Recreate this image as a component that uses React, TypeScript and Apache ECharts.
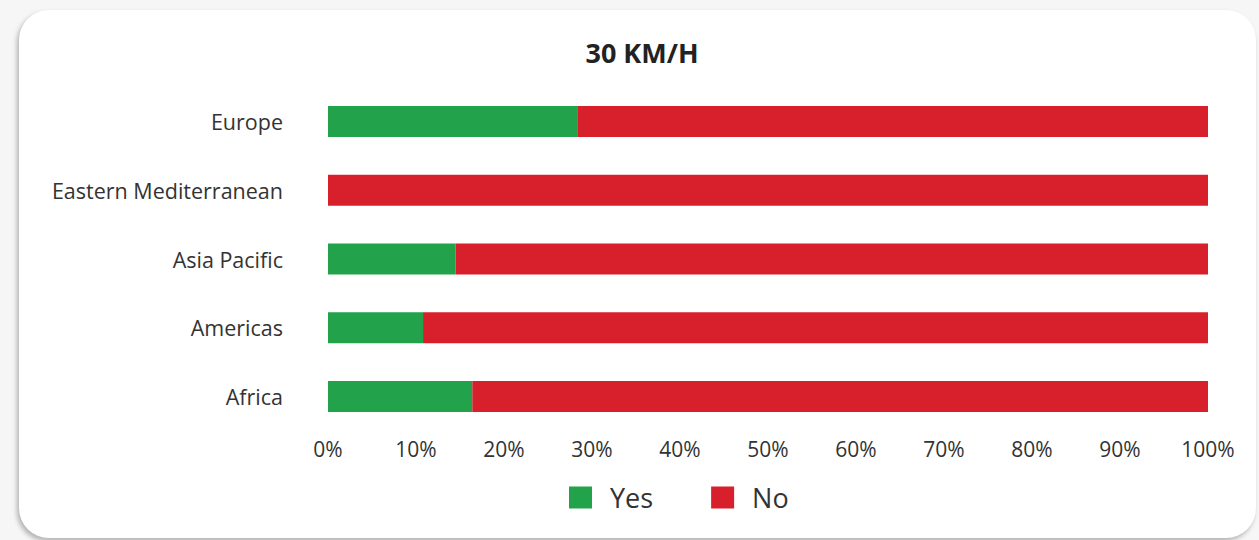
import React, { useEffect, useRef } from "react";
import * as echarts from "echarts";

const regions = ["Europe", "Eastern Mediterranean", "Asia Pacific", "Americas", "Africa"];
const yesShare = [28.4, 0, 14.5, 10.8, 16.4];
const noShare = [71.6, 100, 85.5, 89.2, 83.6];
const titleText = "30 KM/H";

const GREEN = "#22a24a";
const RED = "#d7202c";
const FONT = "'Open Sans', 'Noto Sans', sans-serif";

export default function App() {
  const ref = useRef<HTMLDivElement>(null);

  useEffect(() => {
    if (!ref.current) return;
    const chart = echarts.init(ref.current, null, { renderer: "svg" });
    chart.setOption({
      animation: false,
      backgroundColor: "transparent",
      textStyle: { fontFamily: FONT },
      title: {
        text: titleText,
        left: 642,
        top: 39,
        padding: 0,
        textAlign: "center",
        textStyle: { fontFamily: FONT, fontSize: 27, fontWeight: "bold", color: "#222" },
      },
      legend: {
        left: 569,
        top: 484,
        padding: 0,
        itemWidth: 23,
        itemHeight: 22,
        itemGap: 58,
        icon: "rect",
        data: ["Yes", "No"],
        textStyle: { fontFamily: FONT, fontSize: 27, color: "#333", padding: [0, 0, 0, 13] },
      },
      grid: { left: 328, right: 51, top: 87, bottom: 109 },
      xAxis: {
        type: "value",
        min: 0,
        max: 100,
        interval: 10,
        axisLine: { show: false },
        axisTick: { show: false },
        splitLine: { show: false },
        axisLabel: {
          formatter: "{value}%",
          fontFamily: FONT,
          fontSize: 21,
          color: "#333",
          margin: 7,
        },
      },
      yAxis: {
        type: "category",
        inverse: true,
        data: regions,
        axisLine: { show: false },
        axisTick: { show: false },
        axisLabel: { fontFamily: FONT, fontSize: 21.5, color: "#333", margin: 45 },
      },
      series: [
        {
          name: "Yes",
          type: "bar",
          stack: "share",
          barWidth: 31,
          itemStyle: { color: GREEN },
          data: yesShare,
        },
        {
          name: "No",
          type: "bar",
          stack: "share",
          barWidth: 31,
          itemStyle: { color: RED },
          data: noShare,
        },
      ],
    });
    return () => chart.dispose();
  }, []);

  return (
    <div
      style={{
        position: "fixed",
        left: 0,
        top: 0,
        width: 1259,
        height: 540,
        background: "#f6f6f6",
        overflow: "hidden",
      }}
    >
      <div
        style={{
          position: "absolute",
          left: 19,
          top: 10,
          width: 1237,
          height: 528,
          background: "#ffffff",
          borderRadius: 30,
          boxShadow: "-2px 3px 5px rgba(0,0,0,0.28)",
        }}
      />
      <div ref={ref} style={{ position: "absolute", left: 0, top: 0, width: 1259, height: 540 }} />
    </div>
  );
}
